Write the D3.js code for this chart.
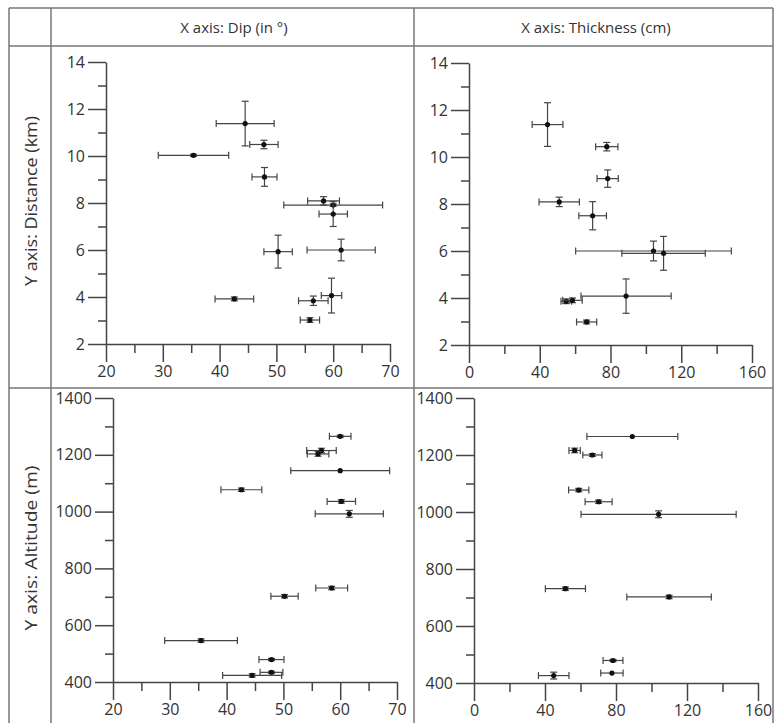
<!DOCTYPE html>
<html>
<head>
    <title></title>
    <meta charset="utf-8">
    <style>
        body { margin: 0; background: #fff; }
    </style>
</head>
<body>
<script src="https://cdn.jsdelivr.net/npm/d3@7"></script>
<script>
    // headers
    var colTitles = ['X axis: Dip (in °)', 'X axis: Thickness (cm)'];
    var rowTitles = ['Y axis: Distance (km)', 'Y axis: Altitude (m)'];

    // tick values
    var dipTicks = [20, 30, 40, 50, 60, 70];
    var dipMinor = [25, 35, 45, 55, 65];
    var thickTicks = [0, 40, 80, 120, 160];
    var thickMinor = [20, 60, 100, 140];
    var distTicks = [2, 4, 6, 8, 10, 12, 14];
    var distMinor = [3, 5, 7, 9, 11, 13];
    var altTicks = [400, 600, 800, 1000, 1200, 1400];
    var altMinor = [500, 700, 900, 1100, 1300];

    // dip vs distance
    var dipA     = [44.5, 47.8, 35.4, 47.9, 58.3, 60.0, 60.0, 50.3, 61.4, 42.6, 56.5, 59.7, 55.9];
    var dipErrA  = [5.1, 2.5, 6.2, 2.2, 2.8, 8.7, 2.5, 2.5, 6.0, 3.4, 2.6, 1.8, 1.7];
    var distA    = [11.38, 10.49, 10.03, 9.11, 8.09, 7.91, 7.53, 5.93, 6.0, 3.92, 3.84, 4.06, 3.02];
    var distErrA = [0.95, 0.18, 0.05, 0.4, 0.18, 0.05, 0.53, 0.7, 0.46, 0.08, 0.2, 0.74, 0.1];

    // thickness vs distance
    var thickB    = [44.4, 77.9, 78.4, 51.0, 69.9, 104.3, 110.0, 88.8, 55.0, 58.5, 66.5];
    var thickErrB = [8.7, 6.3, 6.0, 11.4, 7.8, 44.0, 23.6, 25.5, 3.0, 5.5, 5.7];
    var distB     = [11.38, 10.44, 9.08, 8.09, 7.5, 6.0, 5.9, 4.08, 3.86, 3.9, 2.98];
    var distErrB  = [0.93, 0.18, 0.37, 0.2, 0.6, 0.42, 0.72, 0.73, 0.1, 0.1, 0.08];

    // dip vs altitude
    var dipC    = [60.0, 56.7, 56.1, 60.0, 42.6, 60.2, 61.6, 58.5, 50.2, 35.5, 47.9, 47.9, 44.5];
    var dipErrC = [1.9, 2.6, 1.9, 8.7, 3.6, 2.5, 6.0, 2.8, 2.4, 6.4, 2.2, 2.0, 5.2];
    var altC    = [1265, 1215, 1203, 1144, 1077, 1036, 992, 731, 702, 546, 479, 434, 423];
    var altErrC = [4, 8, 8, 0, 6, 6, 12, 6, 6, 6, 4, 4, 6];

    // thickness vs altitude
    var thickD    = [89.2, 56.7, 66.7, 59.0, 70.2, 104.0, 51.5, 109.9, 78.3, 77.7, 44.9];
    var thickErrD = [25.6, 3.2, 5.4, 5.7, 7.6, 43.7, 11.3, 23.8, 5.6, 6.3, 8.6];
    var altD      = [1265, 1216, 1200, 1077, 1036, 992, 731, 702, 479, 435, 426];
    var altErrD   = [0, 8, 5, 6, 6, 12, 6, 6, 4, 0, 12];

    var font = '"Open Sans", sans-serif';
    var ink = '#333';

    var svg = d3.select('body').append('svg')
        .attr('width', 776)
        .attr('height', 723);

    // table frame
    var frame = svg.append('g')
        .attr('stroke', '#777')
        .attr('stroke-width', 1.5)
        .attr('fill', 'none');
    [9, 51, 414, 773].forEach(function (x) {
        frame.append('line').attr('x1', x).attr('x2', x).attr('y1', 8).attr('y2', 723);
    });
    [8, 46, 388].forEach(function (y) {
        frame.append('line').attr('x1', 9).attr('x2', 773).attr('y1', y).attr('y2', y);
    });

    // column + row titles
    var colCx = [234, 596];
    colTitles.forEach(function (t, i) {
        svg.append('text')
            .attr('x', colCx[i]).attr('y', 33)
            .attr('text-anchor', 'middle')
            .attr('font-family', font).attr('font-size', 15)
            .attr('fill', ink)
            .text(t);
    });
    var rowCy = [201, 548];
    rowTitles.forEach(function (t, i) {
        svg.append('text')
            .attr('transform', 'translate(31,' + rowCy[i] + ') rotate(-90)')
            .attr('dy', '0.35em')
            .attr('text-anchor', 'middle')
            .attr('font-family', font).attr('font-size', 17)
            .attr('fill', ink)
            .attr('textLength', i === 0 ? 170 : 165)
            .attr('lengthAdjust', 'spacingAndGlyphs')
            .text(t);
    });

    var panels = [
        {x: dipA, xe: dipErrA, y: distA, ye: distErrA, xDom: [20, 70], yDom: [2, 14],
         xMaj: dipTicks, xMin: dipMinor, yMaj: distTicks, yMin: distMinor,
         left: 106, right: 390, top: 62, bottom: 344},
        {x: thickB, xe: thickErrB, y: distB, ye: distErrB, xDom: [0, 160], yDom: [2, 14],
         xMaj: thickTicks, xMin: thickMinor, yMaj: distTicks, yMin: distMinor,
         left: 469, right: 752, top: 63, bottom: 345},
        {x: dipC, xe: dipErrC, y: altC, ye: altErrC, xDom: [20, 70], yDom: [400, 1400],
         xMaj: dipTicks, xMin: dipMinor, yMaj: altTicks, yMin: altMinor,
         left: 113, right: 397, top: 398, bottom: 682},
        {x: thickD, xe: thickErrD, y: altD, ye: altErrD, xDom: [0, 160], yDom: [400, 1400],
         xMaj: thickTicks, xMin: thickMinor, yMaj: altTicks, yMin: altMinor,
         left: 474, right: 758, top: 398, bottom: 683}
    ];

    function styleAxis(sel) {
        sel.selectAll('path, line').attr('stroke', '#444').attr('stroke-width', 1.5);
        sel.selectAll('text')
            .attr('font-family', font)
            .attr('font-size', 16)
            .attr('fill', ink);
    }

    panels.forEach(function (p) {
        var x = d3.scaleLinear().domain(p.xDom).range([p.left, p.right]);
        var y = d3.scaleLinear().domain(p.yDom).range([p.bottom, p.top]);
        var g = svg.append('g');

        g.append('g')
            .attr('transform', 'translate(0,' + p.bottom + ')')
            .call(d3.axisBottom(x).tickValues(p.xMaj).tickFormat(d3.format('d'))
                .tickSize(18).tickSizeOuter(0).tickPadding(4))
            .call(styleAxis);
        g.append('g')
            .attr('transform', 'translate(0,' + p.bottom + ')')
            .call(d3.axisBottom(x).tickValues(p.xMin).tickSize(9).tickFormat(''))
            .call(function (s) { s.select('.domain').remove(); })
            .call(styleAxis);
        g.append('g')
            .attr('transform', 'translate(' + p.left + ',0)')
            .call(d3.axisLeft(y).tickValues(p.yMaj).tickFormat(d3.format('d'))
                .tickSize(18).tickSizeOuter(0).tickPadding(3))
            .call(styleAxis);
        g.append('g')
            .attr('transform', 'translate(' + p.left + ',0)')
            .call(d3.axisLeft(y).tickValues(p.yMin).tickSize(8).tickFormat(''))
            .call(function (s) { s.select('.domain').remove(); })
            .call(styleAxis);

        var cap = 3.5;
        var pts = g.append('g')
            .attr('stroke', '#444')
            .attr('stroke-width', 1.2)
            .selectAll('g')
            .data(p.x.map(function (d, i) { return i; }))
            .enter().append('g');

        // horizontal error bars
        pts.append('line')
            .attr('x1', function (i) { return x(p.x[i] - p.xe[i]); })
            .attr('x2', function (i) { return x(p.x[i] + p.xe[i]); })
            .attr('y1', function (i) { return y(p.y[i]); })
            .attr('y2', function (i) { return y(p.y[i]); });
        [-1, 1].forEach(function (s) {
            pts.append('line')
                .attr('x1', function (i) { return x(p.x[i] + s * p.xe[i]); })
                .attr('x2', function (i) { return x(p.x[i] + s * p.xe[i]); })
                .attr('y1', function (i) { return y(p.y[i]) - cap; })
                .attr('y2', function (i) { return y(p.y[i]) + cap; });
        });

        // vertical error bars
        var vb = pts.filter(function (i) { return p.ye[i] > 0; });
        vb.append('line')
            .attr('x1', function (i) { return x(p.x[i]); })
            .attr('x2', function (i) { return x(p.x[i]); })
            .attr('y1', function (i) { return y(p.y[i] - p.ye[i]); })
            .attr('y2', function (i) { return y(p.y[i] + p.ye[i]); });
        [-1, 1].forEach(function (s) {
            vb.append('line')
                .attr('x1', function (i) { return x(p.x[i]) - cap; })
                .attr('x2', function (i) { return x(p.x[i]) + cap; })
                .attr('y1', function (i) { return y(p.y[i] + s * p.ye[i]); })
                .attr('y2', function (i) { return y(p.y[i] + s * p.ye[i]); });
        });

        pts.append('circle')
            .attr('cx', function (i) { return x(p.x[i]); })
            .attr('cy', function (i) { return y(p.y[i]); })
            .attr('r', 2.6)
            .attr('fill', '#111')
            .attr('stroke', 'none');
    });
</script>
</body>
</html>
